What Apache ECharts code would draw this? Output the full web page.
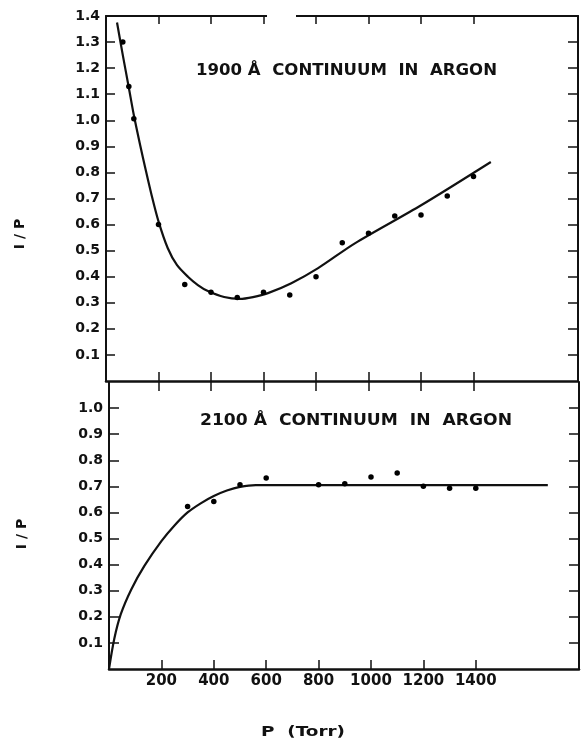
<!DOCTYPE html>
<html>
<head>
<meta charset="utf-8">
<script src="https://cdn.jsdelivr.net/npm/echarts@6/dist/echarts.min.js"></script>
<style>
  html, body { margin: 0; padding: 0; background: #fff; }
  #chart { width: 581px; height: 740px; }
</style>
</head>
<body>
<div id="chart"></div>
<script>
// ---------- data ----------
const xTickValues = [200, 400, 600, 800, 1000, 1200, 1400];
const yTickTop = [0.1, 0.2, 0.3, 0.4, 0.5, 0.6, 0.7, 0.8, 0.9, 1.0, 1.1, 1.2, 1.3];
const yLabelTop = [0.1, 0.2, 0.3, 0.4, 0.5, 0.6, 0.7, 0.8, 0.9, 1.0, 1.1, 1.2, 1.3, 1.4];
const yTickBot = [0.1, 0.2, 0.3, 0.4, 0.5, 0.6, 0.7, 0.8, 0.9, 1.0];
const yLabelBot = [0.1, 0.2, 0.3, 0.4, 0.5, 0.6, 0.7, 0.8, 0.9, 1.0];

// 1900 Å continuum (upper panel)
const topPointsP = [64, 87, 106, 200, 300, 400, 500, 600, 700, 800, 900, 1000, 1100, 1200, 1300, 1400];
const topPointsV = [1.30, 1.13, 1.006, 0.60, 0.37, 0.34, 0.32, 0.34, 0.33, 0.40, 0.53, 0.567, 0.633, 0.637, 0.71, 0.784];
const topCurveP = [42, 64, 87, 106, 130, 150, 172, 200, 235, 270, 312, 350, 388, 450, 509, 560, 617, 706, 808, 948, 1202, 1466];
const topCurveV = [1.375, 1.25, 1.125, 1.02, 0.905, 0.815, 0.72, 0.612, 0.51, 0.445, 0.40, 0.368, 0.345, 0.322, 0.315, 0.322, 0.337, 0.375, 0.433, 0.528, 0.675, 0.84];

// 2100 Å continuum (lower panel)
const botPointsP = [300, 400, 500, 600, 800, 900, 1000, 1100, 1200, 1300, 1400];
const botPointsV = [0.623, 0.642, 0.706, 0.732, 0.706, 0.71, 0.736, 0.751, 0.70, 0.693, 0.693];
const botCurveP = [0, 20, 45, 85, 135, 200, 250, 300, 350, 400, 450, 500, 560, 1675];
const botCurveV = [0, 0.115, 0.21, 0.305, 0.395, 0.49, 0.55, 0.60, 0.635, 0.663, 0.684, 0.698, 0.705, 0.705];

const topTitle = '1900 Å  CONTINUUM  IN  ARGON';
const botTitle = '2100 Å  CONTINUUM  IN  ARGON';
const yName = 'I / P';
const xName = 'P  (Torr)';

// ---------- helpers ----------
const INK = '#111';
const FONT = '"DejaVu Sans", "Liberation Sans", sans-serif';
const zip = (a, b) => a.map((v, i) => [v, b[i]]);

function measure(text, font) {
  const c = document.createElement('canvas').getContext('2d');
  c.font = font;
  return c.measureText(text).width;
}

const line = { show: true, onZero: false, lineStyle: { color: INK, width: 2 } };
const thick = { show: true, onZero: false, lineStyle: { color: INK, width: 2.5 } };
const noLine = { show: false, onZero: false };
const tickStyle = { color: INK, width: 1.5 };

const chart = echarts.init(document.getElementById('chart'), null, { renderer: 'canvas' });

const titleFont = 'bold 15px ' + FONT;
const xNameFont = 'bold 14px ' + FONT;
const topTitleScale = 301 / measure(topTitle, titleFont);
const botTitleScale = 312 / measure(botTitle, titleFont);
const xNameScale = 84 / measure(xName, xNameFont);

const yLabelStyle = { show: true, margin: 6, color: INK, fontFamily: FONT, fontSize: 14, fontWeight: 'bold',
  formatter: v => Number(v).toFixed(1) };

const TOP_XMAX = 1798;
const BOT_XMAX = 1794;

const option = {
  animation: false,
  backgroundColor: '#fff',
  grid: [
    { left: 106, top: 16, width: 472, height: 365 },
    { left: 109, top: 382, width: 470, height: 287 }
  ],
  xAxis: [
    // upper panel: top border
    { gridIndex: 0, type: 'value', position: 'top', min: 0, max: TOP_XMAX,
      axisLine: line, splitLine: { show: false }, axisLabel: { show: false },
      axisTick: { show: true, inside: true, length: 8, customValues: xTickValues, lineStyle: tickStyle } },
    // upper panel: separator (ticks upward)
    { gridIndex: 0, type: 'value', position: 'bottom', min: 0, max: TOP_XMAX,
      axisLine: thick, splitLine: { show: false }, axisLabel: { show: false },
      axisTick: { show: true, inside: true, length: 9, customValues: xTickValues, lineStyle: tickStyle } },
    // upper panel: separator (ticks downward)
    { gridIndex: 0, type: 'value', position: 'bottom', offset: 0, min: 0, max: TOP_XMAX,
      axisLine: noLine, splitLine: { show: false }, axisLabel: { show: false },
      axisTick: { show: true, inside: false, length: 10, customValues: xTickValues, lineStyle: tickStyle } },
    // lower panel: bottom axis with labels
    { gridIndex: 1, type: 'value', position: 'bottom', min: 0, max: BOT_XMAX,
      axisLine: thick, splitLine: { show: false },
      axisTick: { show: true, inside: true, length: 9, customValues: xTickValues, lineStyle: tickStyle },
      axisLabel: { show: true, customValues: xTickValues, margin: 5, color: INK,
        fontFamily: FONT, fontSize: 15, fontWeight: 'bold', formatter: v => String(v) } },
    // lower panel: top line (no ticks)
    { gridIndex: 1, type: 'value', position: 'top', min: 0, max: BOT_XMAX,
      axisLine: noLine, splitLine: { show: false }, axisLabel: { show: false }, axisTick: { show: false } }
  ],
  yAxis: [
    { gridIndex: 0, type: 'value', position: 'left', min: 0, max: 1.4, interval: 0.1,
      axisLine: line, splitLine: { show: false },
      axisTick: { show: true, inside: true, length: 9, customValues: yTickTop, lineStyle: tickStyle },
      axisLabel: Object.assign({ customValues: yLabelTop }, yLabelStyle) },
    { gridIndex: 0, type: 'value', position: 'right', min: 0, max: 1.4, interval: 0.1,
      axisLine: line, splitLine: { show: false }, axisLabel: { show: false },
      axisTick: { show: true, inside: true, length: 10, customValues: yTickTop, lineStyle: tickStyle } },
    { gridIndex: 1, type: 'value', position: 'left', min: 0, max: 1.1, interval: 0.1,
      axisLine: line, splitLine: { show: false },
      axisTick: { show: true, inside: true, length: 10, customValues: yTickBot, lineStyle: tickStyle },
      axisLabel: Object.assign({ customValues: yLabelBot }, yLabelStyle) },
    { gridIndex: 1, type: 'value', position: 'right', min: 0, max: 1.1, interval: 0.1,
      axisLine: line, splitLine: { show: false }, axisLabel: { show: false },
      axisTick: { show: true, inside: true, length: 10, customValues: yTickBot, lineStyle: tickStyle } }
  ],
  series: [
    { name: '1900 curve', type: 'line', xAxisIndex: 1, yAxisIndex: 0, data: zip(topCurveP, topCurveV),
      smooth: 0.3, showSymbol: false, lineStyle: { color: INK, width: 2.2 }, z: 3 },
    { name: '1900 data', type: 'scatter', xAxisIndex: 1, yAxisIndex: 0, data: zip(topPointsP, topPointsV),
      symbol: 'circle', symbolSize: 5.5, itemStyle: { color: '#000', opacity: 1 }, z: 4 },
    { name: '2100 curve', type: 'line', xAxisIndex: 3, yAxisIndex: 2, data: zip(botCurveP, botCurveV),
      smooth: 0.3, showSymbol: false, lineStyle: { color: INK, width: 2.2 }, z: 3 },
    { name: '2100 data', type: 'scatter', xAxisIndex: 3, yAxisIndex: 2, data: zip(botPointsP, botPointsV),
      symbol: 'circle', symbolSize: 5.5, itemStyle: { color: '#000', opacity: 1 }, z: 4 }
  ],
  graphic: [
    { type: 'text', x: 346.5, y: 71.5, scaleX: topTitleScale, z: 10,
      style: { text: topTitle, font: titleFont, fill: INK, align: 'center', verticalAlign: 'middle' } },
    { type: 'text', x: 356, y: 421.5, scaleX: botTitleScale, z: 10,
      style: { text: botTitle, font: titleFont, fill: INK, align: 'center', verticalAlign: 'middle' } },
    { type: 'text', x: 20, y: 234, rotation: Math.PI / 2, z: 10,
      style: { text: yName, font: 'bold 14px ' + FONT, fill: INK, align: 'center', verticalAlign: 'middle' } },
    { type: 'text', x: 22, y: 534, rotation: Math.PI / 2, z: 10,
      style: { text: yName, font: 'bold 14px ' + FONT, fill: INK, align: 'center', verticalAlign: 'middle' } },
    { type: 'text', x: 303, y: 732, scaleX: xNameScale, z: 10,
      style: { text: xName, font: xNameFont, fill: INK, align: 'center', verticalAlign: 'middle' } },
    // break in the upper border line, as in the original print
    { type: 'rect', shape: { x: 267, y: 11, width: 29, height: 9 }, z: 100,
      style: { fill: '#fff' } }
  ]
};

chart.setOption(option);
</script>
</body>
</html>
